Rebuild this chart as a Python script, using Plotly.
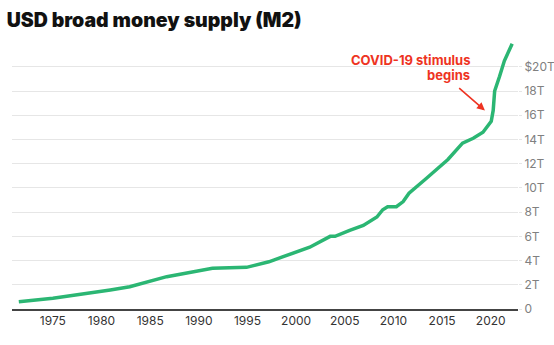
import plotly.graph_objects as go

years = [1971.5, 1975.0, 1980.9, 1982.9, 1986.7, 1990.1, 1991.4, 1994.9, 1997.2,
         1998.6, 2000.4, 2001.4, 2003.5, 2004.0, 2005.5, 2006.9, 2008.3, 2008.9,
         2009.4, 2010.3, 2011.0, 2011.6, 2013.4, 2015.6, 2017.1, 2018.2, 2019.2,
         2020.05, 2020.25, 2020.4, 2020.9, 2021.4, 2022.2]
m2 = [0.6, 0.88, 1.57, 1.84, 2.67, 3.17, 3.36, 3.44, 3.9,
      4.3, 4.82, 5.1, 6.0, 6.0, 6.5, 6.9, 7.6, 8.2,
      8.45, 8.45, 8.87, 9.56, 10.8, 12.35, 13.7, 14.1, 14.6,
      15.5, 16.4, 18.0, 19.2, 20.5, 21.9]

xtick_vals = [1975, 1980, 1985, 1990, 1995, 2000, 2005, 2010, 2015, 2020]
ytick_vals = [0, 2, 4, 6, 8, 10, 12, 14, 16, 18, 20]
ytick_text = ["0", "2T", "4T", "6T", "8T", "10T", "12T", "14T", "16T", "18T", "$20T"]

fig = go.Figure()
fig.add_trace(go.Scatter(x=years, y=m2, mode="lines",
                         line=dict(color="#2bb673", width=3.5, shape="linear"),
                         hoverinfo="skip"))

fig.update_layout(
    width=554, height=345,
    margin=dict(l=12, r=36, t=39, b=36, autoexpand=False),
    paper_bgcolor="white", plot_bgcolor="white",
    showlegend=False,
    font=dict(family="Inter, Lato, sans-serif"),
    title=dict(text="USD broad money supply (M2)", x=0.012, xanchor="left",
               y=0.942, yanchor="middle",
               font=dict(family="Inter, sans-serif", size=19.5, color="#111", weight=900)),
)
fig.update_xaxes(range=[1970.8, 2022.8], tickvals=xtick_vals, automargin=False,
                 showgrid=False, zeroline=False,
                 showline=True, linecolor="#444", linewidth=1.5,
                 ticks="", tickfont=dict(size=12, color="#333"))
fig.update_yaxes(range=[0, 22.3], side="right", tickvals=ytick_vals, ticktext=ytick_text,
                 automargin=False,
                 showgrid=True, gridcolor="#e6e6e6", gridwidth=1, zeroline=False,
                 ticks="outside", ticklen=3, tickcolor="#e6e6e6",
                 tickfont=dict(size=12, color="#808080"))

fig.add_annotation(x=2018.0, y=20.57, xref="x", yref="y", showarrow=False,
                   text="<b>COVID-19 stimulus</b>", align="right",
                   xanchor="right", yanchor="middle", borderpad=0,
                   font=dict(size=13, color="#ee3322", family="Inter, sans-serif"))
fig.add_annotation(x=2018.0, y=19.3, xref="x", yref="y", showarrow=False,
                   text="<b>begins</b>", align="right",
                   xanchor="right", yanchor="middle", borderpad=0,
                   font=dict(size=13, color="#ee3322", family="Inter, sans-serif"))
fig.add_annotation(x=2019.4, y=16.4, ax=2016.6, ay=18.35, xref="x", yref="y",
                   axref="x", ayref="y", showarrow=True, text="",
                   arrowhead=2, arrowsize=1, arrowwidth=1.6, arrowcolor="#ee3322")

fig.write_html("out.html")
